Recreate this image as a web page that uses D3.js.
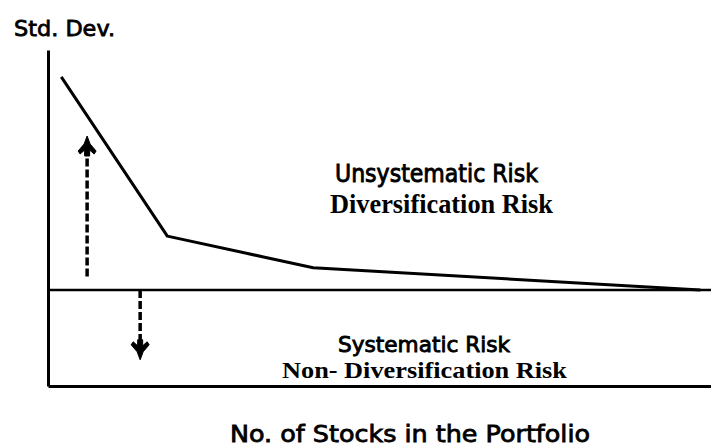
<!DOCTYPE html>
<html>
<head>
<meta charset="utf-8">
<script src="https://cdn.jsdelivr.net/npm/d3@7"></script>
<style>
  body { margin: 0; background: #fff; }
  svg { display: block; }
</style>
</head>
<body>
<div id="chart"></div>
<script>
// portfolio risk curve
var stocks = [1, 9, 20, 49.2];
var stdDev = [46, 22.3, 17.6, 14.3];
var systematicLevel = 14.3;

// arrows: [x, yFrom, yTo]
var upArrow = [2.95, 16.3, 37.2];
var downArrow = [6.95, 14.3, 3.9];

var width = 711, height = 446;

var svg = d3.select("#chart").append("svg")
    .attr("width", width)
    .attr("height", height);

var xScale = d3.scaleLinear().domain([0, 50]).range([48, 711]);
var yScale = d3.scaleLinear().domain([0, 50]).range([386, 50]);

// axes (no ticks)
svg.append("g")
    .attr("transform", "translate(48,0)")
    .call(d3.axisLeft(yScale).ticks(0).tickSize(0))
    .call(function (g) { g.select(".domain").attr("stroke", "#000").attr("stroke-width", 3); });

svg.append("g")
    .attr("transform", "translate(0,386)")
    .call(d3.axisBottom(xScale).ticks(0).tickSize(0))
    .call(function (g) { g.select(".domain").attr("stroke", "#000").attr("stroke-width", 3); });

// systematic risk line
svg.append("line")
    .attr("x1", xScale(0)).attr("x2", xScale(50))
    .attr("y1", yScale(systematicLevel)).attr("y2", yScale(systematicLevel))
    .attr("stroke", "#000").attr("stroke-width", 2.5);

// total risk curve
var pts = stocks.map(function (s, i) { return [s, stdDev[i]]; });
var line = d3.line()
    .x(function (d) { return xScale(d[0]); })
    .y(function (d) { return yScale(d[1]); });

svg.append("path")
    .datum(pts)
    .attr("d", line)
    .attr("fill", "none")
    .attr("stroke", "#000")
    .attr("stroke-width", 3)
    .attr("stroke-linejoin", "round");

// dashed arrows with bird-like heads
function arrow(a, up) {
  var x = xScale(a[0]), y1 = yScale(a[1]), y2 = yScale(a[2]);
  var dir = up ? -1 : 1;
  svg.append("line")
      .attr("x1", x).attr("x2", x)
      .attr("y1", y1).attr("y2", y2 - dir * 14)
      .attr("stroke", "#000").attr("stroke-width", 3.5)
      .attr("stroke-dasharray", "8,3");
  // head: tip at y2
  var p = d3.path();
  p.moveTo(x, y2);
  p.lineTo(x + 3, y2 - dir * 8);
  p.lineTo(x + 9, y2 - dir * 15);
  p.lineTo(x + 7, y2 - dir * 18);
  p.lineTo(x + 2.5, y2 - dir * 14);
  p.lineTo(x + 2.5, y2 - dir * 20);
  p.lineTo(x - 2.5, y2 - dir * 20);
  p.lineTo(x - 2.5, y2 - dir * 14);
  p.lineTo(x - 7, y2 - dir * 18);
  p.lineTo(x - 9, y2 - dir * 15);
  p.lineTo(x - 3, y2 - dir * 8);
  p.closePath();
  svg.append("path").attr("d", p.toString()).attr("fill", "#000")
      .attr("stroke", "#000").attr("stroke-width", 1).attr("stroke-linejoin", "round");
}
arrow(upArrow, true);
arrow(downArrow, false);

// labels
function label(txt, x, y, size, family, weight, len, thick) {
  svg.append("text")
      .attr("x", x).attr("y", y)
      .attr("textLength", len)
      .attr("lengthAdjust", "spacingAndGlyphs")
      .style("font-family", family)
      .style("font-size", size + "px")
      .style("font-weight", weight)
      .style("fill", "#000")
      .style("stroke", thick ? "#000" : "none")
      .style("stroke-width", thick || 0)
      .text(txt);
}
var sans = "'DejaVu Sans', sans-serif";
var serif = "'Liberation Serif', serif";

label("Std. Dev.", 14, 36, 22, sans, "normal", 101, 0.8);
label("Unsystematic Risk", 335, 182, 24, sans, "normal", 203, 0.9);
label("Diversification Risk", 330, 213, 27, serif, "bold", 223, 0);
label("Systematic Risk", 338, 352, 22, sans, "normal", 172, 0.9);
label("Non- Diversification Risk", 282, 378, 24, serif, "bold", 285, 0);
label("No. of Stocks in the Portfolio", 230, 442, 23, sans, "normal", 360, 0.8);
</script>
</body>
</html>
